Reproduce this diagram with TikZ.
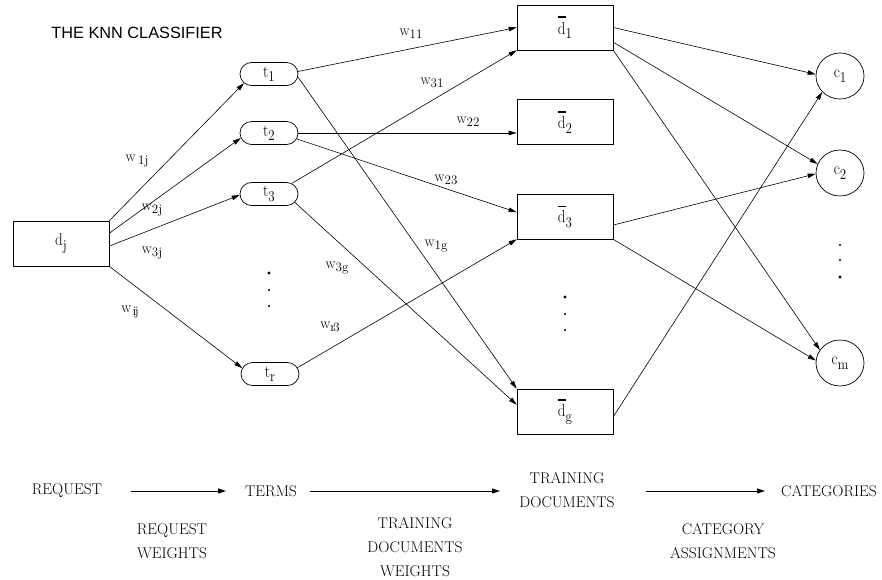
\documentclass[tikz,border=0pt]{standalone}
\usepackage{fontspec}
\usepackage{graphicx}
\newfontfamily\titlefont{Liberation Sans}
\usetikzlibrary{arrows.meta,shapes.misc,shapes.geometric,calc}
\newcommand\subtx[2]{\scalebox{1}[1.15]{#1\lower4pt\hbox{\fontsize{13}{13}\selectfont #2}}}
\newcommand\wlab[1]{w\lower3.5pt\hbox{\fontsize{13}{13}\selectfont #1}}
\newcommand\dbar[2]{\hbox{\rlap{\kern0.5pt\raisebox{16pt}{\rule{7.5pt}{#2}}}\subtx{d}{#1}}}
\tikzset{
  lbl/.style={font=\fontsize{15}{17}\selectfont, inner sep=1pt},
  docbox/.style={draw, line width=0.7pt, minimum width=96pt, minimum height=45pt, inner sep=0pt, font=\fontsize{15}{17}\selectfont},
  termnode/.style={draw, line width=0.7pt, rounded rectangle, minimum width=58pt, minimum height=23pt, inner sep=0pt, font=\fontsize{15}{17}\selectfont},
  catnode/.style={draw, line width=0.7pt, ellipse, minimum width=48pt, minimum height=46pt, inner sep=0pt, font=\fontsize{15}{17}\selectfont},
  conn/.style={line width=0.6pt, -{Triangle[length=8pt,width=4.5pt]}},
  flowarrow/.style={line width=0.8pt, -{Triangle[length=8pt,width=5pt]}},
  captxt/.style={font=\fontsize{15.5}{24}\selectfont, align=center, inner sep=0pt},
  dotbig/.style={fill, circle, inner sep=0pt, minimum size=3.4pt},
  dotsm/.style={fill, circle, inner sep=0pt, minimum size=2.4pt}
}
\begin{document}
\begin{tikzpicture}[x=1pt,y=-1pt]
\useasboundingbox (0,0) rectangle (882,579);
\node[font=\titlefont\fontsize{16.3}{18}\selectfont] (title) at (137,33) {THE KNN CLASSIFIER};

\node[docbox] (dj) at (61,243.5) {\subtx{d}{j}};

\node[termnode] (t1) at (269,74) {\subtx{t}{1}};
\node[termnode] (t2) at (269,133) {\subtx{t}{2}};
\node[termnode] (t3) at (269,194) {\subtx{t}{3}};
\node[termnode] (tr) at (270,374) {\subtx{t}{r}};
\node[dotbig] (td1) at (269,273) {};
\node[dotsm] (td2) at (269,290) {};
\node[dotsm] (td3) at (269,306) {};

\node[docbox] (d1) at (565,27.5) {\dbar{1}{2.2pt}};
\node[docbox] (d2) at (565,122) {\dbar{2}{2.2pt}};
\node[docbox] (d3) at (565,216.5) {\dbar{3}{0.8pt}};
\node[docbox] (dg) at (565,411.5) {\dbar{g}{2.2pt}};
\node[dotbig] (dd1) at (565,297) {};
\node[dotsm] (dd2) at (565,314) {};
\node[dotsm] (dd3) at (565,330) {};

\node[catnode] (c1) at (840,76) {\subtx{c}{1}};
\node[catnode] (c2) at (840,173) {\subtx{c}{2}};
\node[catnode] (cm) at (840,363) {\subtx{c}{m}};
\node[dotsm] (cd1) at (840,245) {};
\node[dotsm] (cd2) at (840,260) {};
\node[dotbig] (cd3) at (840,277) {};

% request -> terms
\draw[conn] (dj.north east) -- (t1.200);
\draw[conn] (dj.12) -- (t2.190);
\draw[conn] (dj.-3) -- (t3.182);
\draw[conn] (dj.south east) -- (tr.168);

% terms -> documents
\draw[conn] (t1.5) -- (d1.west);
\draw[conn] (t1.-6) -- (dg.north west);
\draw[conn] (t2.east) -- (t2.east -| d2.west);
\draw[conn] (t2.-12) -- (d3.175);
\draw[conn] (t3.25) -- (d1.south west);
\draw[conn] (t3.-18) -- (dg.172);
\draw[conn] (tr.13) -- (d3.south west);

% documents -> categories
\draw[conn] (d1.east) -- (c1.176);
\draw[conn] (d1.-17) -- (c2.158);
\draw[conn] (d1.south east) -- (cm.147);
\draw[conn] (d3.-10) -- (c2.182);
\draw[conn] (d3.south east) -- (cm.174);
\draw[conn] (dg.-6) -- (c1.222);

% weight labels
\node[lbl] (l1j) at (137,161) {w\,\lower3.5pt\hbox{\fontsize{13}{13}\selectfont 1j}};
\node[lbl] (l2j) at (152,210) {\wlab{2j}};
\node[lbl] (l3j) at (152,253) {\wlab{3j}};
\node[lbl] (lij) at (130,312) {w\,\lower3.5pt\hbox{\fontsize{13}{13}\selectfont\kern-1pt i\kern-1.5pt j}};
\node[lbl] (l11) at (411,34) {\wlab{11}};
\node[lbl] (l31) at (432,83) {\wlab{31}};
\node[lbl] (l22) at (468,122) {\wlab{22}};
\node[lbl] (l23) at (446,180) {\wlab{23}};
\node[lbl] (l1g) at (436,246) {\wlab{1g}};
\node[lbl] (l3g) at (337,268) {\wlab{3g}};
\node[lbl] (lr3) at (330,327) {w\lower3.5pt\hbox{\fontsize{13}{13}\selectfont r\kern-2pt 3}};

% bottom flow
\node[captxt] (req) at (67,491) {REQUEST};
\node[captxt] (terms) at (271,491) {TERMS};
\node[captxt] (tdoc) at (567,490) {TRAINING\\DOCUMENTS};
\node[captxt] (cats) at (829,491) {CATEGORIES};
\coordinate (f1a) at (131,491); \coordinate (f1b) at (226,491);
\coordinate (f2a) at (310,491); \coordinate (f2b) at (500,491);
\coordinate (f3a) at (646,491); \coordinate (f3b) at (765,491);
\draw[flowarrow] (f1a) -- (f1b);
\draw[flowarrow] (f2a) -- (f2b);
\draw[flowarrow] (f3a) -- (f3b);
\node[captxt] (rw) at (172,541) {REQUEST\\WEIGHTS};
\node[captxt] (tdw) at (415,547) {TRAINING\\DOCUMENTS\\WEIGHTS};
\node[captxt] (ca) at (723,541) {CATEGORY\\ASSIGNMENTS};
\end{tikzpicture}
\end{document}
